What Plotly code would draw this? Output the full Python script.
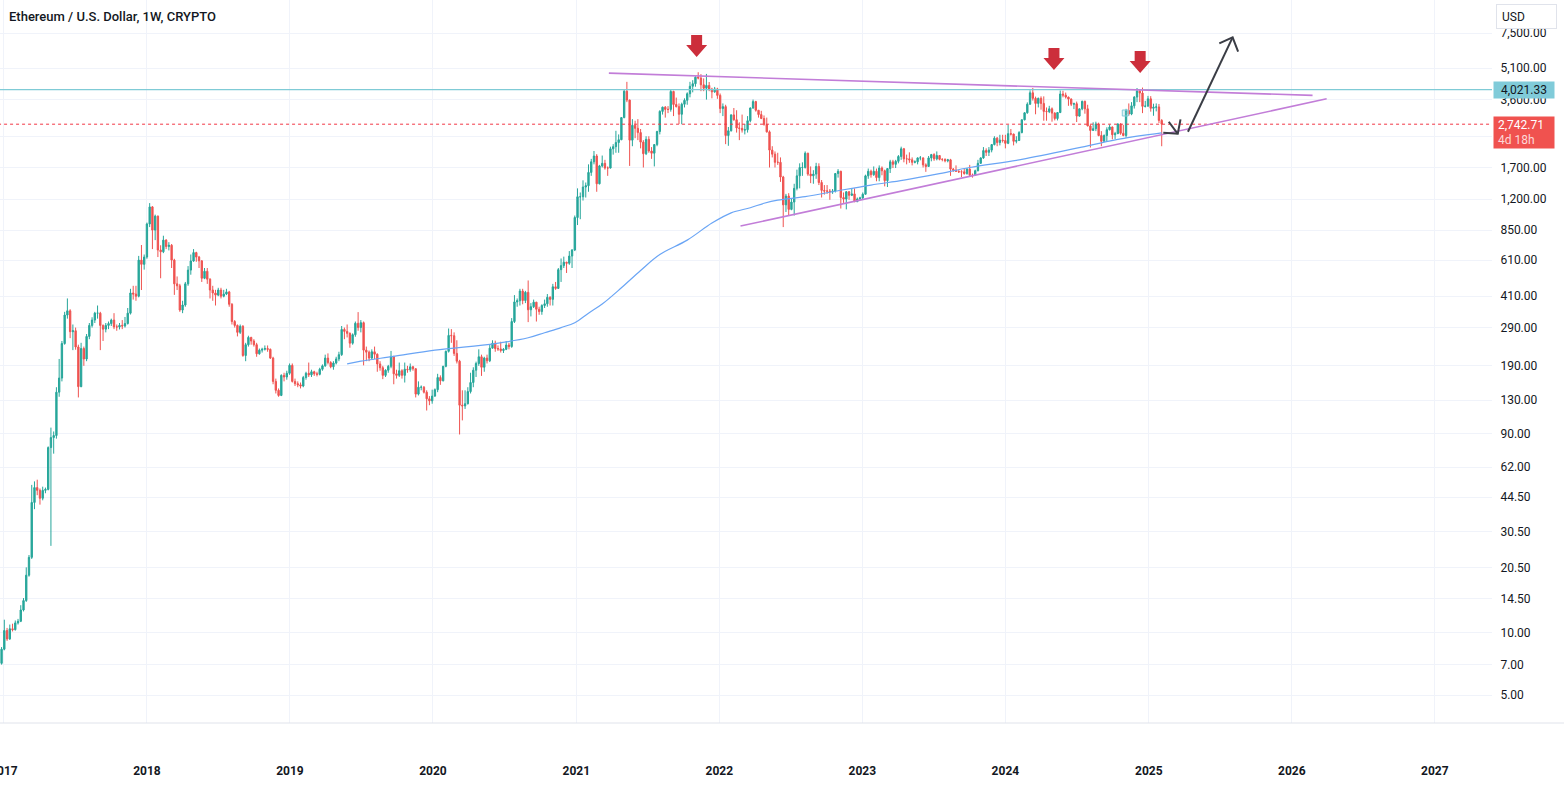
import numpy as np
import pandas as pd
import plotly.graph_objects as go

# weekly candles, first week starts Monday 2016-12-26, open of each week = previous close
first_week = "2016-12-26"
first_open = 7.1

close_2017 = [8.3, 10.2, 9.3, 10.4, 10.3, 11.1, 11.3, 12.8, 14.2, 18.8,
              22.9, 42, 49.5, 48, 44, 48, 48.5, 77, 86, 88,
              142, 166, 243, 333, 349, 277, 280, 234, 151, 230,
              205, 263, 297, 315, 340, 340, 297, 285, 297, 303,
              315, 292, 292, 297, 295, 303, 340, 425, 420, 410,
              611, 583, 632]
high_2017 = [8.5, 11.5, 10.5, 10.9, 11.0, 11.4, 11.6, 13.5, 14.6, 20.5,
             23.5, 51, 53, 54, 49, 50, 49.5, 78, 96, 92,
             150, 205, 250, 345, 400, 355, 300, 290, 240, 245,
             235, 270, 305, 325, 345, 370, 345, 300, 305, 310,
             320, 340, 300, 305, 315, 326, 360, 445, 460, 460,
             640, 722, 650]
low_2017 = [7.0, 8.2, 9.1, 9.2, 10.1, 10.2, 10.9, 11.2, 12.6, 14.0,
            18.5, 22.5, 39, 45.5, 41, 43, 46.5, 48, 26, 72,
            85, 135, 160, 240, 320, 258, 226, 227, 134, 150,
            190, 200, 255, 290, 305, 320, 226, 250, 275, 285,
            295, 285, 280, 284, 285, 290, 300, 335, 395, 390,
            405, 439, 550]

close_2018 = [911, 1100, 851, 993, 683, 670, 762, 710, 720, 611,
              470, 460, 352, 372, 470, 547, 605, 664, 632, 606,
              500, 540, 495, 439, 425, 415, 439, 410, 420, 430,
              375, 310, 297, 275, 294, 213, 240, 260, 250, 240,
              217, 226, 228, 230, 228, 207, 160, 145, 137, 171,
              168, 175]
high_2018 = [925, 1147, 1110, 1010, 1000, 720, 800, 770, 745, 730,
             620, 510, 470, 390, 480, 572, 650, 690, 670, 640,
             610, 560, 560, 500, 460, 440, 450, 450, 440, 445,
             435, 380, 315, 300, 300, 298, 245, 265, 262, 255,
             245, 230, 232, 238, 238, 230, 210, 165, 148, 173,
             176, 180]
low_2018 = [620, 880, 690, 762, 632, 500, 660, 690, 680, 560,
            416, 439, 345, 340, 365, 460, 520, 600, 600, 560,
            480, 495, 470, 400, 390, 370, 410, 400, 405, 415,
            365, 300, 290, 263, 270, 210, 200, 235, 240, 235,
            210, 215, 220, 225, 222, 205, 155, 140, 135, 136,
            160, 163]

close_2019 = [191, 160, 156, 154, 152, 167, 175, 172, 178, 174,
              173, 183, 190, 207, 197, 188, 196, 205, 215, 284,
              278, 272, 244, 268, 304, 290, 306, 226, 221, 207,
              222, 216, 194, 186, 171, 181, 189, 211, 174, 171,
              180, 171, 183, 182, 188, 184, 139, 150, 150, 142,
              132, 129]
high_2019 = [195, 195, 165, 160, 158, 170, 178, 197, 182, 180,
             178, 186, 193, 215, 218, 200, 200, 210, 222, 295,
             290, 300, 275, 272, 310, 344, 315, 310, 235, 225,
             228, 235, 218, 200, 190, 183, 192, 224, 212, 182,
             197, 183, 197, 190, 195, 190, 185, 160, 153, 152,
             145, 136]
low_2019 = [172, 158, 152, 150, 148, 150, 163, 168, 168, 170,
            169, 171, 180, 188, 193, 185, 182, 193, 200, 212,
            255, 260, 232, 240, 262, 280, 275, 191, 200, 200,
            205, 205, 178, 180, 164, 168, 176, 185, 155, 165,
            168, 165, 158, 176, 178, 180, 134, 137, 145, 140,
            116, 123]

close_2020 = [136, 146, 167, 161, 189, 223, 266, 265, 218, 200,
              123, 122, 125, 143, 158, 181, 195, 210, 187, 207,
              201, 231, 244, 230, 229, 225, 228, 239, 235, 310,
              385, 390, 434, 391, 428, 353, 365, 384, 355, 346,
              370, 377, 405, 396, 455, 447, 550, 575, 597, 590,
              639, 683]
high_2020 = [146, 148, 174, 171, 190, 225, 287, 285, 275, 252,
             203, 145, 145, 150, 176, 187, 199, 228, 215, 210,
             215, 241, 252, 251, 238, 248, 231, 250, 245, 322,
             415, 400, 445, 445, 435, 488, 380, 395, 385, 365,
             375, 395, 420, 410, 470, 480, 560, 622, 635, 600,
             675, 690]
low_2020 = [125, 135, 142, 154, 160, 187, 220, 245, 212, 195,
            89, 104, 118, 124, 140, 150, 168, 190, 170, 178,
            195, 198, 230, 222, 224, 220, 219, 226, 228, 232,
            305, 365, 370, 375, 380, 308, 328, 360, 310, 334,
            334, 360, 365, 370, 370, 440, 445, 480, 560, 530,
            580, 560]

close_2021 = [978, 1230, 1230, 1370, 1390, 1610, 1810, 1930, 1420, 1730,
              1780, 1690, 1690, 2090, 2140, 2240, 2310, 2950, 3950, 3580,
              2300, 2710, 2620, 2500, 2250, 1980, 2320, 2040, 1990, 2190,
              2530, 3160, 3310, 3230, 3230, 3940, 3410, 3330, 3060, 3420,
              3570, 3840, 4170, 4290, 4610, 4570, 4240, 4080, 4210, 4040,
              3920, 4050, 3770]
high_2021 = [1000, 1350, 1290, 1475, 1440, 1760, 1870, 2040, 1970, 1750,
             1940, 1850, 1720, 2140, 2200, 2550, 2450, 2960, 4000, 4380,
             3600, 2900, 2850, 2900, 2600, 2300, 2400, 2400, 2130, 2200,
             2550, 3200, 3330, 3350, 3350, 4020, 3970, 3680, 3450, 3480,
             3650, 3900, 4380, 4460, 4660, 4870, 4770, 4550, 4780, 4370,
             4100, 4140, 4100]
low_2021 = [675, 900, 960, 1180, 1220, 1300, 1550, 1760, 1300, 1410,
            1700, 1660, 1550, 1680, 1960, 2000, 2000, 2300, 2930, 3500,
            1730, 2150, 2350, 2300, 2100, 1700, 1950, 2000, 1870, 1720,
            2150, 2450, 3050, 2950, 3100, 3150, 3000, 3300, 2750, 2740,
            3300, 3400, 3690, 3900, 4150, 4500, 3950, 3950, 3600, 3950,
            3650, 3880, 3630]

close_2022 = [3260, 3330, 2420, 2550, 3040, 2880, 2630, 2620, 2570, 2580,
              2850, 3280, 3520, 3200, 3050, 2920, 2730, 2520, 2060, 1970,
              1800, 1800, 1530, 1125, 1240, 1070, 1160, 1350, 1550, 1700,
              1700, 1990, 1580, 1550, 1580, 1720, 1440, 1320, 1310, 1310,
              1300, 1310, 1590, 1630, 1220, 1200, 1300, 1250, 1270, 1165,
              1200, 1215]
high_2022 = [3850, 3450, 3400, 2660, 3060, 3280, 3200, 2800, 3050, 2750,
             3000, 3300, 3600, 3550, 3200, 3180, 3020, 2950, 2560, 2150,
             2030, 2000, 1900, 1550, 1270, 1280, 1200, 1420, 1660, 1780,
             1800, 2030, 2000, 1720, 1650, 1790, 1780, 1480, 1400, 1400,
             1340, 1340, 1600, 1670, 1640, 1290, 1310, 1310, 1350, 1350,
             1220, 1230]
low_2022 = [3100, 3000, 2200, 2160, 2530, 2850, 2500, 2300, 2500, 2450,
            2500, 2800, 3250, 3150, 2950, 2900, 2700, 2500, 1700, 1900,
            1700, 1750, 1450, 880, 1040, 1000, 1060, 1000, 1320, 1350,
            1550, 1680, 1550, 1430, 1420, 1500, 1400, 1220, 1260, 1270,
            1190, 1270, 1290, 1520, 1080, 1150, 1070, 1190, 1240, 1160,
            1160, 1190]

close_2023 = [1265, 1550, 1630, 1570, 1630, 1520, 1690, 1640, 1470, 1680,
              1810, 1760, 1820, 1920, 2090, 1870, 1870, 1850, 1800, 1810,
              1890, 1890, 1750, 1720, 1890, 1960, 1870, 1940, 1860, 1860,
              1830, 1850, 1670, 1650, 1630, 1620, 1620, 1590, 1670, 1560,
              1560, 1640, 1780, 1890, 2050, 2010, 2060, 2190, 2350, 2240,
              2300, 2290]
high_2023 = [1290, 1570, 1680, 1660, 1720, 1680, 1740, 1720, 1660, 1690,
             1850, 1850, 1850, 1950, 2140, 2110, 1960, 2010, 1900, 1840,
             1900, 1930, 1900, 1780, 1930, 1975, 1990, 2030, 1950, 1880,
             1880, 1870, 1870, 1690, 1740, 1650, 1650, 1680, 1690, 1750,
             1590, 1660, 1850, 1900, 2130, 2100, 2130, 2200, 2400, 2380,
             2440, 2440]
low_2023 = [1190, 1260, 1500, 1520, 1550, 1460, 1460, 1560, 1380, 1370,
            1600, 1690, 1690, 1780, 1850, 1800, 1760, 1790, 1740, 1780,
            1760, 1840, 1700, 1620, 1710, 1820, 1830, 1840, 1840, 1820,
            1800, 1800, 1550, 1620, 1620, 1600, 1530, 1570, 1570, 1540,
            1520, 1550, 1630, 1770, 1870, 1930, 1930, 2010, 2170, 2150,
            2170, 2240]

close_2024 = [2220, 2470, 2460, 2270, 2290, 2500, 2880, 3110, 3420, 3880,
              3650, 3450, 3650, 3450, 3160, 3150, 3250, 3100, 2920, 3120,
              3830, 3780, 3700, 3620, 3420, 3440, 3000, 3250, 3530, 3250,
              2690, 2560, 2610, 2750, 2420, 2270, 2420, 2580, 2660, 2440,
              2470, 2750, 2480, 2420, 3190, 3070, 3360, 3700, 3960, 3870,
              3340, 3350, 3630, 3270, 3310, 3320, 2860, 2742.71]
high_2024 = [2440, 2720, 2600, 2470, 2400, 2540, 2890, 3130, 3490, 3990,
             4090, 3720, 3680, 3730, 3730, 3300, 3360, 3300, 3130, 3130,
             3980, 3970, 3890, 3720, 3650, 3480, 3520, 3260, 3560, 3560,
             3400, 2730, 2800, 2820, 2790, 2540, 2450, 2650, 2730, 2670,
             2520, 2770, 2770, 2720, 3250, 3450, 3500, 3740, 4090, 4000,
             4110, 3550, 3750, 3740, 3440, 3450, 3430, 2900]
low_2024 = [2100, 2200, 2420, 2170, 2220, 2280, 2480, 2860, 3080, 3400,
            3560, 3060, 3300, 3220, 2850, 2850, 3100, 2820, 2860, 2860,
            3100, 3690, 3640, 3360, 3350, 3240, 2810, 2980, 3200, 3080,
            2680, 2120, 2550, 2540, 2400, 2150, 2260, 2260, 2560, 2320,
            2330, 2460, 2440, 2400, 2360, 3010, 3030, 3260, 3500, 3500,
            3100, 3300, 3320, 3150, 3010, 3160, 2780, 2150]

# 200-week moving average (week index -> value)
ma_week = [126, 131, 143, 158, 180, 192, 198, 204, 209, 214, 219, 226, 233, 240, 250,
           259, 266, 273, 278, 283, 293, 305, 317, 329, 341, 353, 372, 396, 408, 423]
ma_value = [194, 200, 211, 226, 243, 259, 274, 290, 306, 340, 376, 450, 545, 650, 762,
            920, 1030, 1090, 1145, 1186, 1232, 1315, 1400, 1479, 1580, 1700, 1860, 2160, 2330, 2490]

# drawings
resist_x = ["2021-03-25", "2026-02-23"]
resist_y = [4820, 3770]
support_x = ["2022-02-24", "2026-03-31"]
support_y = [890, 3630]
arrow1_x = ["2025-02-21", "2025-03-16", None, "2025-02-07", "2025-03-16", "2025-03-23"]
arrow1_y = [2818, 2467, None, 2494, 2467, 2893]
arrow2_x = ["2025-04-11", "2025-08-03", None, "2025-06-30", "2025-08-03", "2025-08-17"]
arrow2_y = [2522, 7161, None, 6702, 7161, 6108]
drop_arrow_dates = ["2021-11-04", "2024-05-04", "2024-12-10"]
drop_arrow_tip_px = [57, 70, 73]
marker_box_date = "2024-11-02"
marker_box_px = 113

level_price = 4021.33
last_price = 2742.71
countdown = "4d 18h"

years = list(range(2017, 2028))
price_ticks = [5, 7, 10, 14.5, 20.5, 30.5, 44.5, 62, 90, 130, 190, 290, 410,
               610, 850, 1200, 1700, 2400, 3600, 5100, 7500]
hidden_ticks = [2400]  # covered by the last-price tag

close = close_2017 + close_2018 + close_2019 + close_2020 + close_2021 + close_2022 + close_2023 + close_2024
high = high_2017 + high_2018 + high_2019 + high_2020 + high_2021 + high_2022 + high_2023 + high_2024
low = low_2017 + low_2018 + low_2019 + low_2020 + low_2021 + low_2022 + low_2023 + low_2024
opens = [first_open] + close[:-1]
weeks = pd.date_range(first_week, periods=len(close), freq="7D")

UP = "#26a69a"
DOWN = "#ef5350"
GRID = "#f0f3fa"
TXT = "#131722"
FONT = "Roboto"
PLOT_H = 723

fig = go.Figure()
fig.add_trace(go.Candlestick(
    x=weeks, open=opens, high=high, low=low, close=close,
    increasing=dict(line=dict(color=UP, width=1), fillcolor=UP),
    decreasing=dict(line=dict(color=DOWN, width=1), fillcolor=DOWN),
    whiskerwidth=0, hoverinfo="skip", showlegend=False))

fig.add_trace(go.Scatter(x=weeks[ma_week], y=ma_value, mode="lines", line_shape="spline",
                         line=dict(color="#6aa5f5", width=1.2), hoverinfo="skip", showlegend=False))

# horizontal levels
x_span = ["2016-06-01", "2028-01-01"]
fig.add_trace(go.Scatter(x=x_span, y=[level_price] * 2, mode="lines",
                         line=dict(color="#7fcbd6", width=1.2), hoverinfo="skip", showlegend=False))
fig.add_trace(go.Scatter(x=x_span, y=[last_price] * 2, mode="lines",
                         line=dict(color="#f23645", width=1, dash="dot"), hoverinfo="skip", showlegend=False))

# trend lines
for xs, ys in [(resist_x, resist_y), (support_x, support_y)]:
    fig.add_trace(go.Scatter(x=xs, y=ys, mode="lines", line=dict(color="#c27dd8", width=1.6),
                             hoverinfo="skip", showlegend=False))

# projected path arrows
for xs, ys in [(arrow1_x, arrow1_y), (arrow2_x, arrow2_y)]:
    fig.add_trace(go.Scatter(x=xs, y=ys, mode="lines", line=dict(color="#3a3d45", width=2),
                             hoverinfo="skip", showlegend=False, connectgaps=False))

# red down arrows over the tops
for d, tip in zip(drop_arrow_dates, drop_arrow_tip_px):
    fig.add_shape(type="path", xref="x", yref="paper", xsizemode="pixel", ysizemode="pixel",
                  xanchor=d, yanchor=(PLOT_H - tip) / PLOT_H,
                  path="M0,0 L-10.5,12 L-5.5,12 L-5.5,22 L5.5,22 L5.5,12 L10.5,12 Z",
                  fillcolor="#cc2e3b", line=dict(width=0), layer="above")

# small light-blue marker box on the Nov 2024 candle
fig.add_shape(type="rect", xref="x", yref="paper", xsizemode="pixel", ysizemode="pixel",
              xanchor=marker_box_date, yanchor=(PLOT_H - marker_box_px) / PLOT_H,
              x0=-3, x1=3, y0=-3, y1=3, fillcolor="rgba(128,203,217,0.25)",
              line=dict(color="#80cbd9", width=1), layer="above")

# bottom axis line (runs under the price scale too)
fig.add_shape(type="line", xref="paper", yref="paper", x0=0, x1=1.1, y0=0, y1=0,
              line=dict(color="#e0e3eb", width=1))

fig.add_annotation(xref="paper", yref="paper", x=0, y=1, xshift=7, yshift=-16,
                   xanchor="left", yanchor="middle", showarrow=False,
                   text="Ethereum / U.S. Dollar, 1W, CRYPTO",
                   font=dict(family=FONT, size=13, color=TXT, weight=500))

fig.add_annotation(xref="paper", yref="y", x=1, y=np.log10(level_price), xshift=1,
                   xanchor="left", yanchor="middle", showarrow=False,
                   text=f"{level_price:,.2f}", bgcolor="#80cbd9", width=58, height=14, borderpad=1,
                   align="center", font=dict(family=FONT, size=12, color=TXT))
fig.add_annotation(xref="paper", yref="y", x=1, y=np.log10(last_price), xshift=1, yshift=8,
                   xanchor="left", yanchor="top", showarrow=False,
                   text=f"&nbsp;{last_price:,.2f}<br><span style='color:#fdd7d7'>&nbsp;{countdown}</span>",
                   bgcolor="#f0524f", width=58, height=29, borderpad=1,
                   align="left", font=dict(family=FONT, size=12, color="white"))
fig.add_annotation(xref="paper", yref="paper", x=1, y=1, xshift=4, yshift=-4,
                   xanchor="left", yanchor="top", showarrow=False,
                   text="&nbsp;USD", bgcolor="white", bordercolor="#e0e3eb", borderwidth=1,
                   width=55, height=19, borderpad=2, align="left",
                   font=dict(family=FONT, size=12, color=TXT))

fig.update_layout(
    width=1564, height=786,
    margin=dict(l=0, r=72, t=0, b=63, autoexpand=False),
    paper_bgcolor="white", plot_bgcolor="white",
    font=dict(family=FONT, size=12, color=TXT),
    hovermode=False, showlegend=False,
    xaxis=dict(type="date", range=["2016-12-22", "2027-05-27"],
               tickmode="array", tickvals=[f"{y}-01-01" for y in years],
               ticktext=[f"<b>{y}</b>" for y in years], ticklabeloverflow="allow",
               showgrid=True, gridcolor=GRID, gridwidth=1, zeroline=False, showline=False,
               ticks="outside", ticklen=37, tickcolor="rgba(0,0,0,0)", automargin=False,
               rangeslider=dict(visible=False), fixedrange=True),
    yaxis=dict(type="log", range=[0.565, 4.0341], side="right",
               tickmode="array", tickvals=price_ticks,
               ticktext=["" if v in hidden_ticks else f"{v:,.2f}" for v in price_ticks],
               showgrid=True, gridcolor=GRID, gridwidth=1, zeroline=False, showline=False,
               ticks="outside", ticklen=5, tickcolor="rgba(0,0,0,0)", automargin=False,
               fixedrange=True),
)

# the page's default 8px body margin would shift the whole chart
fig.write_html("out.html", config={"displayModeBar": False},
               post_script="document.body.style.margin='0px';")
